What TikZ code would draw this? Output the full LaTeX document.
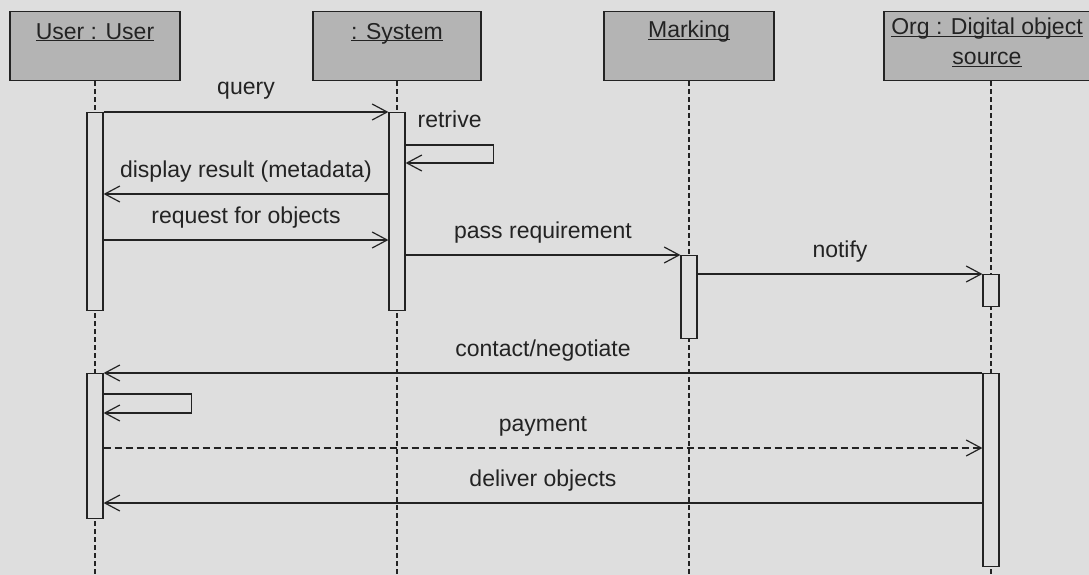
\documentclass[tikz,border=0pt]{standalone}
\usepackage{fontspec}
\setmainfont{Liberation Sans}
\usetikzlibrary{arrows.meta,calc}
\usepackage{xcolor}

\definecolor{paper}{RGB}{222,222,222}
\definecolor{headgray}{RGB}{180,180,180}
\definecolor{ink}{RGB}{35,35,35}

% underlined object name, underline kept at the baseline
\newcommand{\uname}[1]{\underline{\raisebox{0pt}[\height][0pt]{#1}}}

\begin{document}
\begin{tikzpicture}
[x=1pt,y=-1pt,>={Straight Barb[length=15pt,width=16pt]},
font=\fontsize{23}{30}\selectfont,
head/.style={draw=ink,fill=headgray,line width=1.3pt,minimum height=69pt,anchor=north,inner sep=0pt},
headtext/.style={anchor=north,inner sep=0pt,align=center,text=ink},
act/.style={draw=ink,fill=paper,line width=1.2pt,minimum width=16pt,anchor=north,inner sep=0pt},
life/.style={draw=ink,line width=1.3pt,dash pattern=on 5pt off 3pt},
msg/.style={draw=ink,line width=1.2pt,->},
reply/.style={msg,dash pattern=on 7pt off 4pt},
lbl/.style={midway,anchor=base,yshift=17pt,text=ink,inner sep=0pt},
]

%Lifeline positions
\def\xa{95}
\def\xb{397}
\def\xc{689}
\def\xd{991}

\clip (0,0) rectangle (1089,575);
\fill[paper] (0,0) rectangle (1089,575);

%Object heads
\node[head,minimum width=170pt] (user) at (\xa,11) {};
\node[head,minimum width=168pt] (system) at (\xb,11) {};
\node[head,minimum width=170pt] (marking) at (\xc,11) {};
\node[head,minimum width=214pt] (org) at (\xd,11) {};

\node[headtext] (userT) at ($(user.north)+(0,12)$) {\uname{User : User}};
\node[headtext] (systemT) at ($(system.north)+(0,12)$) {\uname{: System}};
\node[headtext] (markingT) at ($(marking.north)+(0,10)$) {\uname{Marking}};
\node[headtext] (orgT) at ($(org.north)+(-4,7)$) {\uname{Org : Digital object}\\\uname{source}};

%Lifelines
\coordinate (bottom) at (0,575);
\foreach \h in {user,system,marking,org}
  \draw[life] (\h.south) -- (\h.south |- bottom);

%Activations
\node[act,minimum height=198pt] (userA) at (\xa,112) {};
\node[act,minimum height=198pt] (systemA) at (\xb,112) {};
\node[act,minimum height=83pt] (markingA) at (\xc,255) {};
\node[act,minimum height=32pt] (orgA) at (\xd,274) {};
\node[act,minimum height=145pt] (userB) at (\xa,373) {};
\node[act,minimum height=193pt] (orgB) at (\xd,373) {};

%Message levels
\coordinate (query) at (0,112);
\coordinate (retrive) at (0,145);
\coordinate (display) at (0,194);
\coordinate (request) at (0,240);
\coordinate (pass) at (0,255);
\coordinate (notify) at (0,274);
\coordinate (contact) at (0,373);
\coordinate (self) at (0,394);
\coordinate (payment) at (0,448);
\coordinate (deliver) at (0,503);

%Messages
\draw[msg] (userA.east |- query) -- (systemA.west |- query) node[lbl] {query};
\draw[msg] (systemA.east |- retrive) -- node[lbl] {retrive} ++(88,0) -- ++(0,18) -- ++(-88,0);
\draw[msg] (systemA.west |- display) -- (userA.east |- display) node[lbl] {display result (metadata)};
\draw[msg] (userA.east |- request) -- (systemA.west |- request) node[lbl] {request for objects};
\draw[msg] (systemA.east |- pass) -- (markingA.west |- pass) node[lbl] {pass requirement};
\draw[msg] (markingA.east |- notify) -- (orgA.west |- notify) node[lbl] {notify};
\draw[msg] (orgB.west |- contact) -- (userB.east |- contact) node[lbl] {contact/negotiate};
\draw[msg] (userB.east |- self) -- ++(88,0) -- ++(0,19) -- ++(-88,0);
\draw[reply] (userB.east |- payment) -- (orgB.west |- payment) node[lbl] {payment};
\draw[msg] (orgB.west |- deliver) -- (userB.east |- deliver) node[lbl] {deliver objects};

\end{tikzpicture}
\end{document}
